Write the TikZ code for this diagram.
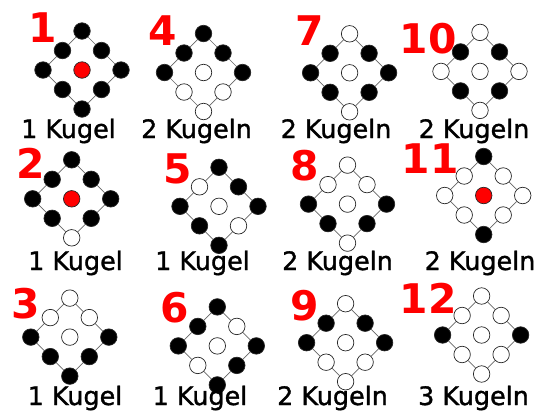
\documentclass[tikz,border=0pt]{standalone}
\usepackage{fontspec}
\setmainfont{DejaVu Sans}
\newfontfamily\lblfont[FakeBold=1.2]{DejaVu Sans}
\tikzset{
  ball/.style={circle, draw=black!85, line width=0.7bp, minimum size=16.5bp, inner sep=0pt},
  ballk/.style={ball, fill=black},
  ballw/.style={ball, fill=white},
  ballr/.style={ball, fill=red},
  edge/.style={draw=black!60, line width=0.7bp},
  lbl/.style={font=\lblfont\fontsize{25.5}{30}\selectfont, anchor=base, inner sep=0pt},
  num/.style={font=\fontsize{41}{45}\selectfont\bfseries, text=red, anchor=base, inner sep=0pt},
}
\newcommand\kpanel[5]{%
  \begin{scope}[shift={(#2,#3)}]
    \node[ball#5] (#1c) at (0,0) {};
    \foreach \f [count=\i] in {#4} {
      \pgfmathsetmacro\ang{-90+45*(\i-1)}
      \pgfmathsetmacro\rad{ifthenelse(mod(\i,2)==1,39,27.577)}
      \node[ball\f] (#1-\i) at (\ang:\rad) {};
    }
    \foreach \i in {1,...,8} {
      \pgfmathtruncatemacro\j{mod(\i,8)+1}
      \draw[edge] (#1-\i) -- (#1-\j);
    }
  \end{scope}}
\begin{document}
\begin{tikzpicture}[x=1bp, y=-1bp]
\useasboundingbox (0,0) rectangle (547,411);
% row 1
\kpanel{a}{82}{70}{k,k,k,k,k,k,k,k}{r}
\node[num] (an) at (42.5,42) {1};
\node[lbl] (al) at (68.5,138) {1 Kugel};
\kpanel{d}{203.5}{72.5}{k,k,k,w,w,w,k,k}{w}
\node[num] (dn) at (162.5,45) {4};
\node[lbl] (dl) at (196.5,138) {2 Kugeln};
\kpanel{g}{349.6}{72.8}{w,k,k,k,w,k,k,k}{w}
\node[num] (gn) at (310,45) {7};
\node[lbl] (gl) at (336,138) {2 Kugeln};
\kpanel{j}{480}{71.4}{w,k,w,k,w,k,w,k}{w}
\node[num] (jn) at (428,53) {10};
\node[lbl] (jl) at (474,138) {2 Kugeln};
% row 2
\kpanel{b}{71.7}{198.8}{k,k,k,k,w,k,k,k}{r}
\node[num] (bn) at (30.5,178) {2};
\node[lbl] (bl) at (75.5,270) {1 Kugel};
\kpanel{e}{219}{206.3}{k,k,k,w,k,k,k,w}{w}
\node[num] (en) at (178,183) {5};
\node[lbl] (el) at (202.5,270) {1 Kugel};
\kpanel{h}{347.5}{204.1}{w,w,k,k,w,k,k,w}{w}
\node[num] (hn) at (305,180) {8};
\node[lbl] (hl) at (337.5,270) {2 Kugeln};
\kpanel{k}{483.7}{195.5}{k,w,w,w,k,w,w,w}{r}
\node[num] (kn) at (430,173) {11};
\node[lbl] (kl) at (480,270) {2 Kugeln};
% row 3
\kpanel{c}{69.8}{337.1}{w,w,k,k,k,k,k,w}{w}
\node[num] (cn) at (26,318) {3};
\node[lbl] (cl) at (75,405) {1 Kugel};
\kpanel{f}{217.3}{345.9}{k,w,k,k,k,w,k,k}{w}
\node[num] (fn) at (175,322) {6};
\node[lbl] (fl) at (200,405) {1 Kugel};
\kpanel{i}{345.6}{342.7}{w,k,k,w,w,w,k,k}{w}
\node[num] (in) at (305,320) {9};
\node[lbl] (il) at (332.5,405) {2 Kugeln};
\kpanel{l}{481.6}{335}{w,w,k,w,w,w,k,w}{w}
\node[num] (ln) at (428,313) {12};
\node[lbl] (ll) at (473.5,405) {3 Kugeln};
\end{tikzpicture}
\end{document}
